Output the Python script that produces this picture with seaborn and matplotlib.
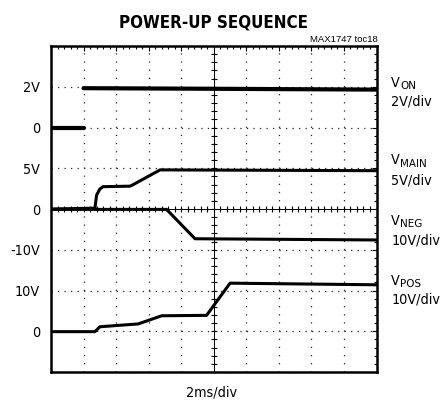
import os
import matplotlib
matplotlib.use("Agg")
import matplotlib.pyplot as plt
from matplotlib import font_manager as fm
import numpy as np
import pandas as pd
import seaborn as sns

# scope traces: time in ms, level in volts
von_t = [0.0, 2.0, 2.0, 10.0, 20.0]
von_v = [0.0, 0.0, 1.93, 1.9, 1.86]
von_seg = [0, 0, 1, 1, 1]  # the edge is too fast to show on the scope

vmain_t = [0.0, 2.7, 2.8, 3.0, 3.2, 4.85, 5.04, 6.7, 20.0]
vmain_v = [0.0, 0.1, 1.7, 2.45, 2.74, 2.8, 2.98, 4.8, 4.7]

vneg_t = [0.0, 7.1, 8.85, 20.0]
vneg_v = [-0.1, -0.1, -7.3, -7.6]

vpos_t = [0.0, 2.7, 3.0, 5.36, 6.8, 9.56, 11.0, 20.0]
vpos_v = [-0.1, -0.1, 1.1, 1.8, 3.8, 3.9, 11.8, 11.4]

# channel settings (V/div and zero marker position in divisions)
volts_per_div = {"VON": 2, "VMAIN": 5, "VNEG": 10, "VPOS": 10}
zero_div = {"VON": 6, "VMAIN": 4, "VNEG": 4, "VPOS": 1}

ytick_pos = [1, 2, 3, 4, 5, 6, 7]
ytick_labels = ["0", "10V", "-10V", "0", "5V", "0", "2V"]

ms_per_div = 2
n_xdiv, n_ydiv = 10, 8

sns.set_style("white")
plt.rcParams["lines.scale_dashes"] = False
plt.rcParams["text.color"] = "black"
plt.rcParams["ytick.labelcolor"] = "black"


def find_font(names):
    files = {os.path.basename(f.fname).lower(): f.fname for f in fm.fontManager.ttflist}
    for n in names:
        if n.lower() in files:
            return files[n.lower()]
    return None


reg_file = find_font(["LiberationSansNarrow-Regular.ttf", "NotoSans-Condensed.ttf",
                      "DejaVuSansCondensed.ttf"])
bold_file = find_font(["LiberationSansNarrow-Bold.ttf", "NotoSans-ExtraCondensedBlack.ttf",
                       "NotoSans-CondensedBlack.ttf", "NotoSans-CondensedBold.ttf",
                       "DejaVuSansCondensed-Bold.ttf"])
if reg_file:
    lab_font = fm.FontProperties(fname=reg_file, size=10.3)
else:
    lab_font = fm.FontProperties(family="Liberation Sans", size=10.3)
if bold_file:
    title_font = fm.FontProperties(fname=bold_file, size=12.2)
else:
    title_font = fm.FontProperties(family="Liberation Sans", weight="bold", size=12.2)
sub_font = lab_font.copy()
sub_font.set_size(lab_font.get_size() * 0.8)


def trace(name, t, v, seg=None):
    d = pd.DataFrame({"t": t, "v": v})
    d["div"] = zero_div[name] + d.v / volts_per_div[name]
    d["seg"] = seg if seg is not None else 0
    d["name"] = name
    return d


df = pd.concat([
    trace("VON", von_t, von_v, von_seg),
    trace("VMAIN", vmain_t, vmain_v),
    trace("VNEG", vneg_t, vneg_v),
    trace("VPOS", vpos_t, vpos_v),
], ignore_index=True)

fig = plt.figure(figsize=(4.41, 4.0), dpi=100)
ax = fig.add_axes([51 / 441, 1 - 372 / 400, 325.5 / 441, 326 / 400])

xmax = n_xdiv * ms_per_div
ax.set_xlim(0, xmax)
ax.set_ylim(0, n_ydiv)

# graticule
ax.set_xticks(np.arange(0, xmax + 0.1, ms_per_div))
ax.set_xticks(np.arange(0, xmax + 0.1, ms_per_div / 5), minor=True)
ax.set_yticks(range(0, n_ydiv + 1))
ax.set_yticks(np.arange(0, n_ydiv + 0.01, 0.2), minor=True)
ax.set_xticklabels([])
ax.set_yticklabels([""] + ytick_labels + [""], fontproperties=lab_font)
ax.tick_params(which="both", direction="in", top=True, right=True,
               color="black", width=0.8)
ax.tick_params(which="major", length=3.5)
ax.tick_params(which="minor", length=2.2)
ax.tick_params(axis="y", which="major", pad=8)
ax.grid(axis="y", color="#222222", lw=0.9, linestyle=(0, (0.9, 3.79)))
ax.grid(axis="x", color="#222222", lw=0.9, linestyle=(0, (0.9, 4.97)))
for s in ax.spines.values():
    s.set_linewidth(1.8)
    s.set_color("black")

xc, yc = xmax / 2, n_ydiv / 2
ax.axvline(xc, color="black", lw=0.7)
ax.axhline(yc, color="black", lw=0.7)
ax.plot(np.full(41, xc), np.arange(0, n_ydiv + 0.01, 0.2), ls="none",
        marker="_", ms=5, mew=0.8, color="black")
ax.plot(np.arange(0, xmax + 0.01, 0.4), np.full(51, yc), ls="none",
        marker="|", ms=5, mew=0.8, color="black")

# traces
widths = {"VON": 3.0, "VMAIN": 2.2, "VNEG": 2.2, "VPOS": 2.2}
for name, sub in df.groupby("name", sort=False):
    sns.lineplot(data=sub, x="t", y="div", units="seg", estimator=None,
                 sort=False, color="black", lw=widths[name], ax=ax,
                 legend=False)
ax.set_xlabel("")
ax.set_ylabel("")

# channel labels on the right
labels = [("ON", "2V/div", 7.0, 6.535),
          ("MAIN", "5V/div", 5.10, 4.60),
          ("NEG", "10V/div", 3.61, 3.13),
          ("POS", "10V/div", 2.14, 1.69)]
xl = xmax + 0.9
for sub, scale, y1, y2 in labels:
    v = ax.text(xl, y1, "V", fontproperties=lab_font, va="baseline",
                ha="left", clip_on=False)
    ax.annotate(sub, xy=(1, 0), xycoords=v, xytext=(0, -1.0),
                textcoords="offset points", fontproperties=sub_font,
                va="bottom", ha="left", annotation_clip=False)
    ax.text(xl, y2, scale, fontproperties=lab_font, va="baseline", ha="left",
            clip_on=False)

fig.text(211.5 / 441, 1 - 396 / 400, "2ms/div", fontproperties=lab_font,
         ha="center", va="baseline")
fig.text(213.7 / 441, 1 - 28 / 400, "POWER-UP SEQUENCE", fontproperties=title_font,
         ha="center", va="baseline")
fig.text(378 / 441, 1 - 41.7 / 400, "MAX1747 toc18", fontsize=6.8,
         family=["Liberation Sans", "DejaVu Sans"], ha="right", va="baseline")

fig.savefig("out.png", dpi=100)
